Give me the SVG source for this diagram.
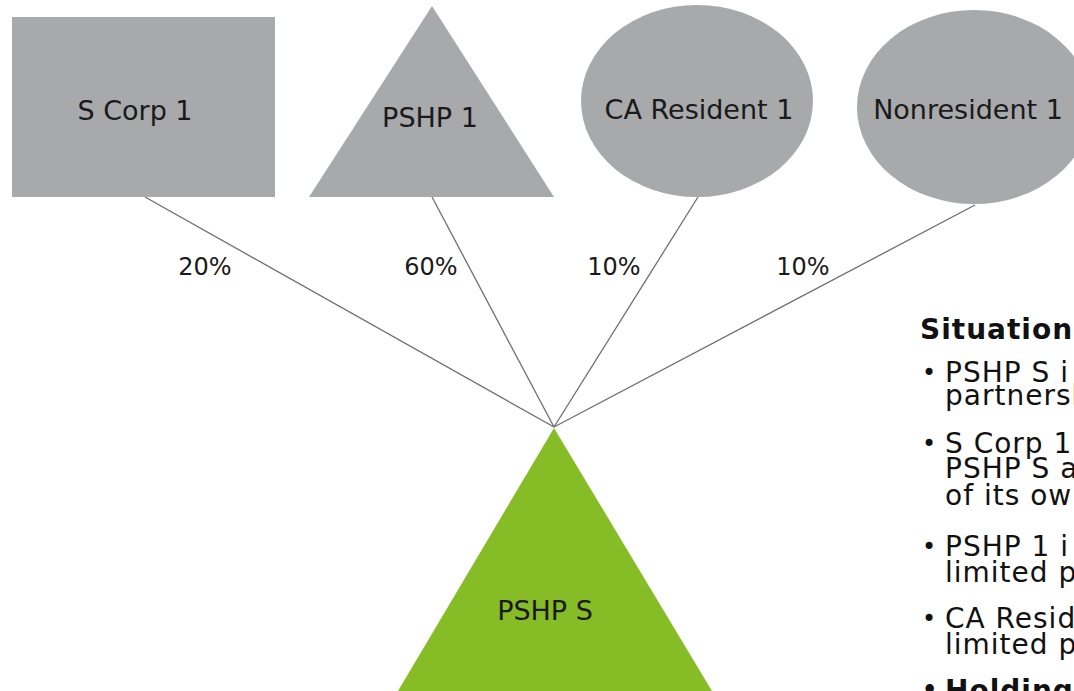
<svg xmlns="http://www.w3.org/2000/svg" width="1074" height="691" viewBox="0 0 1074 691">
<style>
.node{fill:#A8A9AB}
.green{fill:#86BC25}
.lbl{font-family:"DejaVu Sans",Verdana,sans-serif;font-size:27px;fill:#1a1a1a;text-anchor:middle}
.pct{font-family:"DejaVu Sans",Verdana,sans-serif;font-size:24px;fill:#1a1a1a;text-anchor:middle}
.conn line{stroke:#6e6e6e;stroke-width:1.3}
.txt{font-family:"DejaVu Sans",Verdana,sans-serif;font-size:28px;fill:#111;letter-spacing:1px}
.dot{font-family:"DejaVu Sans",Verdana,sans-serif;font-size:24px;fill:#111}
.bold{font-weight:bold}
</style>
<rect width="1074" height="691" fill="#ffffff"/>
<g id="connectors" class="conn">
<line x1="145" y1="197" x2="554" y2="427"/>
<line x1="432" y1="197" x2="554" y2="427"/>
<line x1="698" y1="197" x2="554" y2="427"/>
<line x1="975" y1="205" x2="554" y2="427"/>
</g>
<g id="labels">
<text class="pct" x="205" y="275">20%</text>
<text class="pct" x="431" y="275">60%</text>
<text class="pct" x="614" y="275">10%</text>
<text class="pct" x="803" y="275">10%</text>
</g>
<g id="scorp1">
<rect class="node" x="12" y="17" width="263" height="180"/>
<text class="lbl" x="135" y="120">S Corp 1</text>
</g>
<g id="pshp1">
<polygon class="node" points="432,6 554,197 309,197"/>
<text class="lbl" x="430" y="127">PSHP 1</text>
</g>
<g id="caresident1">
<ellipse class="node" cx="697" cy="101" rx="116" ry="96"/>
<text class="lbl" x="699" y="119">CA Resident 1</text>
</g>
<g id="nonresident1">
<ellipse class="node" cx="974" cy="107" rx="117" ry="97"/>
<text class="lbl" x="968" y="119">Nonresident 1</text>
</g>
<g id="pshps">
<polygon class="green" points="554,428 712,691 398,691"/>
<text class="lbl" x="545" y="620">PSHP S</text>
</g>
<g id="situation">
<text class="txt bold" x="920" y="339">Situation</text>
<text class="dot" x="922" y="381">•</text>
<text class="txt" x="945" y="382">PSHP S i</text>
<text class="txt" x="945" y="405">partnersh</text>
<text class="dot" x="922" y="452">•</text>
<text class="txt" x="945" y="453">S Corp 1</text>
<text class="txt" x="945" y="478">PSHP S a</text>
<text class="txt" x="945" y="505">of its ow</text>
<text class="dot" x="922" y="555">•</text>
<text class="txt" x="945" y="556">PSHP 1 i</text>
<text class="txt" x="945" y="582">limited p</text>
<text class="dot" x="922" y="627">•</text>
<text class="txt" x="945" y="628">CA Resid</text>
<text class="txt" x="945" y="654">limited p</text>
<text class="dot bold" x="922" y="698">•</text>
<text class="txt bold" x="945" y="700">Holding</text>
</g>
</svg>
